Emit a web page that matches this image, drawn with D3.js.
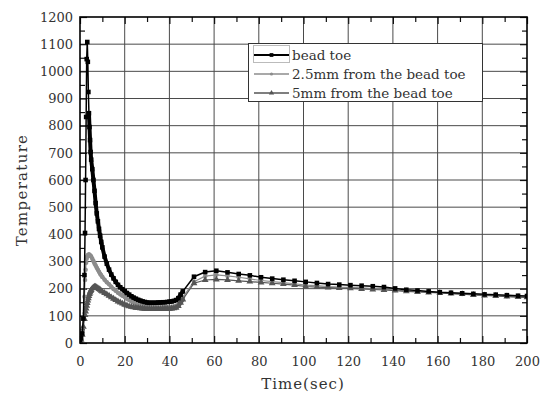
<!DOCTYPE html>
<html>
<head>
<meta charset="utf-8">
<script src="https://cdn.jsdelivr.net/npm/d3@7"></script>
<style>
  html, body { margin: 0; padding: 0; background: #fff; }
  svg { display: block; }
  text { font-family: "DejaVu Serif", "Liberation Serif", serif; fill: #333; }
</style>
</head>
<body>
<svg id="chart" width="550" height="394"></svg>
<script>
// Sample times (sec), shared by all three measurement series
const timeSec = [
  0, 0.5, 1, 1.5, 2, 2.25, 2.5, 2.75, 3, 3.25, 3.5, 3.75, 4, 4.25, 4.5, 4.75,
  5, 5.5, 6, 6.5, 7, 7.5, 8, 8.5, 9, 9.5, 10,
  11, 12, 13, 14, 15, 16, 17, 18, 19, 20, 21, 22, 23, 24, 25, 26, 27, 28, 29, 30,
  31, 32, 33, 34, 35, 36, 37, 38, 39, 40, 41, 42, 43, 44, 45, 46,
  51, 56, 61, 66, 71, 76, 81, 86, 91, 96, 101, 106, 111, 116, 121, 126, 131, 136,
  141, 146, 151, 156, 161, 166, 171, 176, 181, 186, 191, 196, 200
];

// Temperature at the bead toe
const beadToe = [
  12, 18, 35, 90, 250, 405, 600, 832, 1045, 1108, 1035, 924, 846, 795, 747, 703,
  675, 640, 600, 560, 515, 477, 448, 420, 395, 372, 352,
  318, 292, 270, 252, 238, 225, 214, 205, 198, 191, 184, 178, 172, 167, 163, 159, 156, 153, 151, 149,
  148, 148, 148, 148, 149, 149, 150, 150, 151, 152, 153, 155, 158, 165, 178, 190,
  244, 261, 266, 260, 254, 249, 242, 237, 233, 229, 225, 221, 217, 215, 213, 211, 209, 206,
  201, 196, 193, 190, 187, 185, 183, 181, 179, 178, 176, 174, 173
];

// Temperature 2.5 mm from the bead toe
const mm25 = [
  8, 15, 40, 90, 170, 232, 270, 295, 310, 318, 323, 325, 326, 325, 322, 320,
  318, 310, 302, 293, 285, 277, 270, 262, 255, 249, 243,
  233, 224, 216, 207, 199, 192, 185, 179, 174, 169, 163, 158, 153, 149, 145, 141, 138, 136, 134, 133,
  132, 131, 131, 131, 131, 131, 132, 132, 132, 132, 133, 134, 136, 142, 155, 168,
  226, 246, 251, 247, 242, 236, 230, 226, 222, 218, 213, 211, 208, 206, 205, 203, 200, 198,
  195, 192, 190, 188, 185, 183, 180, 178, 176, 174, 172, 170, 169
];

// Temperature 5 mm from the bead toe
const mm5 = [
  5, 12, 30, 60, 88, 103, 116, 127, 137, 147, 156, 165, 173, 180, 186, 191,
  195, 201, 205, 207, 207, 205, 202, 199, 196, 192, 189,
  184, 179, 174, 168, 163, 158, 153, 149, 145, 141, 138, 135, 133, 131, 130, 129, 128, 127, 126, 125,
  125, 125, 125, 125, 125, 125, 126, 126, 126, 126, 127, 128, 130, 136, 148, 160,
  220, 232, 234, 232, 229, 226, 223, 220, 217, 213, 208, 206, 204, 202, 201, 199, 197, 195,
  193, 190, 188, 186, 184, 182, 180, 177, 175, 173, 171, 169, 168
];

const xMajorTicks = [0, 20, 40, 60, 80, 100, 120, 140, 160, 180, 200];
const xMinorTicks = [10, 30, 50, 70, 90, 110, 130, 150, 170, 190];
const yMajorTicks = [0, 100, 200, 300, 400, 500, 600, 700, 800, 900, 1000, 1100, 1200];
const yMinorTicks = [50, 150, 250, 350, 450, 550, 650, 750, 850, 950, 1050, 1150];

const seriesNames = ["bead toe", "2.5mm from the bead toe", "5mm from the bead toe"];

const svg = d3.select("#chart");
const L = 80, R = 527, T = 17, B = 343;
const x = d3.scaleLinear().domain([0, 200]).range([L, R]);
const y = d3.scaleLinear().domain([0, 1200]).range([B, T]);

// Grid
const grid = svg.append("g").attr("stroke", "#4a4a4a").attr("stroke-width", 1);
grid.selectAll(".gx").data(xMajorTicks.slice(1, -1)).join("line")
  .attr("x1", d => x(d)).attr("x2", d => x(d)).attr("y1", T).attr("y2", B);
grid.selectAll(".gy").data(yMajorTicks.slice(1, -1)).join("line")
  .attr("y1", d => y(d)).attr("y2", d => y(d)).attr("x1", L).attr("x2", R);

// Inward ticks on all four sides
function ticks(gen, tr, vals, size) {
  const g = svg.append("g").attr("transform", tr)
    .call(gen.tickValues(vals).tickSize(size).tickFormat(""));
  g.select(".domain").remove();
  g.selectAll("line").attr("stroke", "#111").attr("stroke-width", 1.2);
}
ticks(d3.axisBottom(x), `translate(0,${B})`, xMinorTicks, -5);
ticks(d3.axisBottom(x), `translate(0,${B})`, xMajorTicks, -7);
ticks(d3.axisTop(x), `translate(0,${T})`, xMinorTicks, -5);
ticks(d3.axisTop(x), `translate(0,${T})`, xMajorTicks, -7);
ticks(d3.axisLeft(y), `translate(${L},0)`, yMinorTicks, -5);
ticks(d3.axisLeft(y), `translate(${L},0)`, yMajorTicks, -7);
ticks(d3.axisRight(y), `translate(${R},0)`, yMinorTicks, -5);
ticks(d3.axisRight(y), `translate(${R},0)`, yMajorTicks, -7);

// Tick labels
const fmt = d3.format("d");
const xl = svg.append("g").attr("transform", `translate(0,${B})`)
  .call(d3.axisBottom(x).tickValues(xMajorTicks).tickFormat(fmt).tickSize(0).tickPadding(14));
xl.select(".domain").remove();
xl.selectAll("text").attr("font-size", 13).attr("font-family", "DejaVu Serif").attr("fill", "#333");
const yl = svg.append("g").attr("transform", `translate(${L},0)`)
  .call(d3.axisLeft(y).tickValues(yMajorTicks).tickFormat(fmt).tickSize(0).tickPadding(7));
yl.select(".domain").remove();
yl.selectAll("text").attr("font-size", 13).attr("font-family", "DejaVu Serif").attr("fill", "#333");

// Series
svg.append("clipPath").attr("id", "plotclip")
  .append("rect").attr("x", L).attr("y", T - 6).attr("width", R - L).attr("height", B - T + 6);

const series = [
  { name: seriesNames[1], vals: mm25, color: "#8c8c8c", width: 1.2, band: 3.5, marker: "circle" },
  { name: seriesNames[2], vals: mm5, color: "#555555", width: 1.2, band: 4, marker: "triangle" },
  { name: seriesNames[0], vals: beadToe, color: "#000000", width: 1.5, band: 4, marker: "square" }
];

const line = d3.line().x(d => x(d[0])).y(d => y(d[1]));
const symbolFor = {
  square: d3.symbol().type(d3.symbolSquare).size(21),
  circle: d3.symbol().type(d3.symbolCircle).size(16),
  triangle: d3.symbol().type(d3.symbolTriangle).size(20)
};

// Densely sampled stretch (after the peak, before reheating) reads as a solid band
const denseFrom = 4, denseTo = 46;

const plot = svg.append("g").attr("clip-path", "url(#plotclip)");
series.forEach(s => {
  const pts = timeSec.map((t, i) => [t, s.vals[i]]);
  const dense = pts.filter(d => d[0] >= denseFrom && d[0] <= denseTo);
  plot.append("path").datum(pts).attr("d", line)
    .attr("fill", "none").attr("stroke", s.color).attr("stroke-width", s.width);
  plot.append("path").datum(dense).attr("d", line)
    .attr("fill", "none").attr("stroke", s.color).attr("stroke-width", s.band)
    .attr("stroke-linejoin", "round").attr("stroke-linecap", "round");
  plot.append("g").selectAll("path").data(pts).join("path")
    .attr("transform", d => `translate(${x(d[0])},${y(d[1])})`)
    .attr("d", symbolFor[s.marker]())
    .attr("fill", s.color);
});

// Frame
svg.append("rect").attr("x", L).attr("y", T).attr("width", R - L).attr("height", B - T)
  .attr("fill", "none").attr("stroke", "#000").attr("stroke-width", 1.6);

// Legend
const lg = svg.append("g");
lg.append("rect").attr("x", 248.5).attr("y", 43.5).attr("width", 234).attr("height", 58)
  .attr("fill", "#fff").attr("stroke", "#333").attr("stroke-width", 1);
lg.append("rect").attr("x", 253.5).attr("y", 45.5).attr("width", 36).attr("height", 17)
  .attr("fill", "none").attr("stroke", "#bbb").attr("stroke-width", 1);
const legendRows = [
  { s: series[2], yy: 55 },
  { s: series[0], yy: 74 },
  { s: series[1], yy: 93 }
];
const legendSymbol = {
  square: d3.symbol().type(d3.symbolSquare).size(14),
  circle: d3.symbol().type(d3.symbolCircle).size(8),
  triangle: d3.symbol().type(d3.symbolTriangle).size(12)
};
legendRows.forEach(r => {
  lg.append("line").attr("x1", 254).attr("x2", 289).attr("y1", r.yy).attr("y2", r.yy)
    .attr("stroke", r.s.color).attr("stroke-width", r.s === series[2] ? 2 : 1.3);
  lg.append("path").attr("transform", `translate(271.5,${r.yy})`)
    .attr("d", legendSymbol[r.s.marker]()).attr("fill", r.s.color);
  lg.append("text").attr("x", 292).attr("y", r.yy + 4.5).attr("font-size", 13.5)
    .text(r.s.name);
});

// Axis titles
svg.append("text").attr("x", 303).attr("y", 389).attr("text-anchor", "middle")
  .attr("font-size", 15).attr("letter-spacing", 1).text("Time(sec)");
svg.append("text").attr("transform", "translate(27,190) rotate(-90)")
  .attr("text-anchor", "middle").attr("font-size", 15).attr("letter-spacing", 1.3)
  .text("Temperature");
</script>
</body>
</html>
